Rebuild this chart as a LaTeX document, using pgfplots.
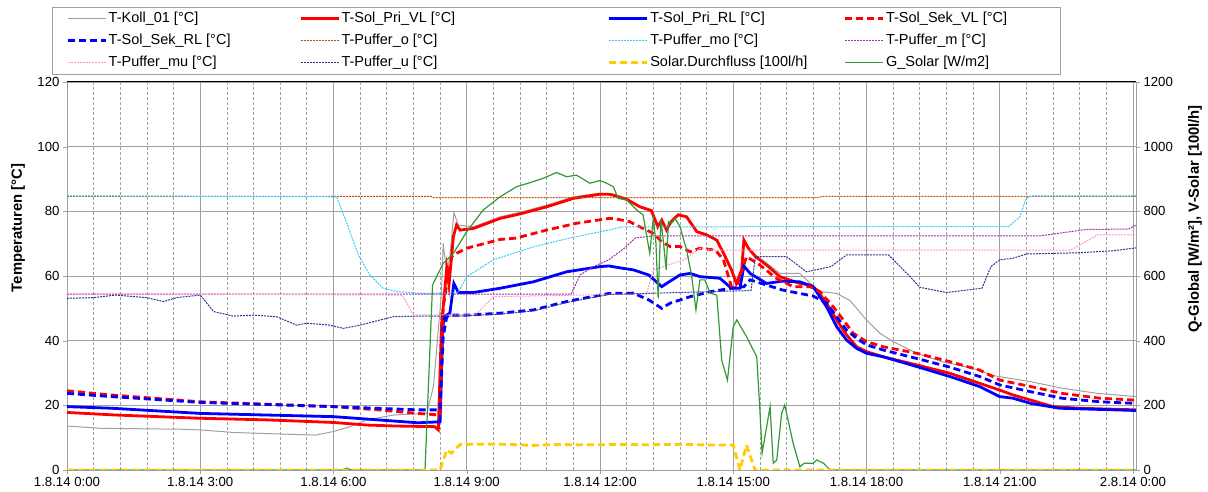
\documentclass[border=0pt]{standalone}
\usepackage{pgfplots}
\pgfplotsset{compat=1.18}
\usepackage{fontspec}
\setmainfont{Liberation Sans}
\definecolor{koll}{RGB}{160,160,160}
\definecolor{pbrown}{RGB}{192,80,0}
\definecolor{pcyan}{RGB}{51,204,255}
\definecolor{ppurple}{RGB}{160,50,160}
\definecolor{ppink}{RGB}{255,153,204}
\definecolor{pnavy}{RGB}{51,51,153}
\definecolor{solyellow}{RGB}{255,204,0}
\definecolor{gsolar}{RGB}{51,153,51}
\definecolor{gridgray}{RGB}{160,160,160}
\begin{document}
\begin{tikzpicture}
\path[use as bounding box] (0,0) rectangle (1208pt,492pt);
\pgfplotsset{
  thinDot/.style={line width=1pt, dash pattern=on 2pt off 1pt},
  thickSolid/.style={line width=2.8pt},
  thickDash/.style={line width=2.8pt, dash pattern=on 7pt off 4pt},
  commonaxis/.style={
    at={(67pt,22pt)}, anchor=south west,
    scale only axis, width=1069pt, height=388pt,
    xmin=0, xmax=24.068,
    /pgf/number format/assume math mode=true,
    /pgf/number format/1000 sep={},
    tick label style={font=\fontsize{13.2}{15}\selectfont, black},
    tick align=outside, major tick length=4pt, minor tick length=0pt,
    axis line style={gridgray},
    tick style={gridgray},
  }
}
\begin{axis}[commonaxis,
  ymin=0, ymax=120,
  xtick={0,3,...,24},
  xticklabels={1.8.14 0:00,1.8.14 3:00,1.8.14 6:00,1.8.14 9:00,1.8.14 12:00,1.8.14 15:00,1.8.14 18:00,1.8.14 21:00,2.8.14 0:00},
  minor x tick num=4,
  ytick={0,20,...,120},
  xtick pos=bottom, ytick pos=left,
  xmajorgrids, xminorgrids, ymajorgrids,
  major grid style={gridgray, line width=0.9pt},
  minor grid style={gridgray, line width=0.7pt, dash pattern=on 3pt off 2pt},
  legend columns=4,
  legend cell align=left,
  legend image code/.code={\draw[#1, line cap=butt] (0pt,0pt) -- (38pt,0pt);},
  legend style={at={(axis description cs:-0.01403,1.1933)}, anchor=north west,
    draw=gridgray, line width=0.8pt, inner xsep=14pt, inner ysep=4.5pt,
    row sep=8pt, column sep=0pt,
    font=\fontsize{14.5}{17}\selectfont,
    nodes={inner xsep=1.5pt, inner ysep=0pt, text height=11pt, text depth=3pt}},
]
\draw[black, line width=1pt] (rel axis cs:0,1) -- (rel axis cs:1,1);
% T-Koll_01
\addplot[koll, line width=1pt] coordinates {
(0,13.6)(0.75,12.9)(2.6,12.6)(3,12.4)(3.75,11.6)(4.87,11.1)(5.6,10.8)(6,11.9)(6.37,13.4)(6.75,15.5)(7.35,17)(8.1,17.5)(8.25,25.8)(8.43,54.6)(8.47,70.1)(8.55,60.8)(8.62,66)(8.71,79.6)(8.81,75.8)(9.15,75.2)(9.75,78.3)(10.2,79.7)(10.8,81.9)(11.4,84.5)(12,85.6)(12.3,85.3)(12.6,84)(12.9,81.6)(13.16,80.5)(13.3,76)(13.5,75)(13.76,79.2)(13.95,78.5)(14.18,74)(14.4,73)(14.63,71.3)(14.8,67)(14.96,62.5)(15.07,58.5)(15.19,62)(15.24,70.5)(15.34,68.8)(15.5,66.5)(15.75,64)(16.05,60.8)(16.5,60.8)(16.73,57.8)(16.95,55.2)(17.33,54.6)(17.63,52.4)(18,46.4)(18.3,42.3)(18.6,39.7)(19.13,36.1)(19.7,33.5)(20.4,31.4)(20.9,29.1)(21.7,27.3)(22.4,25.3)(23.2,23.7)(24.07,22.7)};
\addlegendentry{\makebox[189pt][l]{T-Koll\_01 [°C]}}
% T-Sol_Pri_VL
\addplot[red, thickSolid] coordinates {
(0,17.8)(1.1,17)(3,16)(4.5,15.5)(6,14.7)(6.75,13.9)(7.4,13.6)(8.28,13.4)(8.36,12.4)(8.43,44.3)(8.55,62.4)(8.6,57.2)(8.7,72.2)(8.77,75.8)(8.85,74.2)(9.15,74.7)(9.75,77.8)(10.2,79.2)(10.8,81.4)(11.4,84)(12,85.3)(12.2,85.3)(12.3,85)(12.6,83.7)(12.9,81.4)(13.16,80.2)(13.3,75.2)(13.39,77.3)(13.5,74.2)(13.6,76.8)(13.76,78.9)(13.95,78.3)(14.18,73.7)(14.4,72.7)(14.63,71.1)(14.8,66.5)(14.96,61.9)(15.07,57.7)(15.19,61.9)(15.24,71.1)(15.34,68.6)(15.5,66)(15.75,63.4)(16.05,59.8)(16.5,57.7)(16.73,57.2)(16.88,55.7)(17.1,51.6)(17.33,46.4)(17.55,41.8)(17.78,38.1)(18,36.6)(18.38,35)(19.13,32.5)(19.88,29.9)(20.55,26.8)(21,24.7)(21.3,23.2)(21.7,21.6)(22.2,19.6)(22.8,19.1)(24.07,18.6)};
\addlegendentry{\makebox[265pt][l]{T-Sol\_Pri\_VL [°C]}}
% T-Sol_Pri_RL
\addplot[blue, thickSolid] coordinates {
(0,19.6)(1,19.1)(3,17.5)(6,16.5)(7,15.5)(7.9,14.6)(8.4,14.9)(8.46,44.3)(8.5,47.6)(8.62,48.5)(8.71,57.7)(8.81,54.9)(9.15,54.9)(9.75,56.2)(10.5,58.2)(11.25,61.3)(12,62.9)(12.2,63.1)(12.5,62.4)(12.75,61.9)(13.1,60.3)(13.39,56.7)(13.5,57.7)(13.8,60.3)(14.03,60.8)(14.25,59.8)(14.7,59.3)(14.96,56.2)(15.15,56.2)(15.24,63.1)(15.38,60.8)(15.75,57.7)(16.1,58.4)(16.5,58.2)(16.8,56.7)(17.1,50.5)(17.33,44.3)(17.55,40.2)(17.78,37.6)(18,36.1)(18.38,35)(19.13,32)(19.88,28.9)(20.55,25.8)(21,22.7)(21.3,22.2)(21.7,20.6)(22.35,19.1)(24.07,18.4)};
\addlegendentry{\makebox[192pt][l]{T-Sol\_Pri\_RL [°C]}}
% T-Sol_Sek_VL
\addplot[red, thickDash] coordinates {
(0,24.5)(1,23.2)(3,21.1)(6,19.6)(7,18.6)(7.9,17.5)(8.4,17)(8.47,50.5)(8.58,59.8)(8.66,66)(8.77,67)(9,68.6)(9.75,71.3)(10.1,71.7)(10.8,74.2)(11.47,76.3)(12.2,77.8)(12.3,77.8)(12.67,76.8)(12.97,74.7)(13.2,73.2)(13.39,70.6)(13.58,69.1)(13.8,69.1)(14.03,67.5)(14.25,68.6)(14.6,68)(14.78,65)(14.96,56.7)(15.1,57.7)(15.3,66)(15.6,63.4)(15.97,59.3)(16.35,56.7)(16.73,56.7)(16.95,55.2)(17.25,50.5)(17.48,46.4)(17.7,42.3)(18,39.7)(18.38,38.1)(19.13,36.1)(19.88,33.5)(20.55,30.9)(21,27.8)(21.7,25.8)(22.4,23.7)(23.25,22.2)(24.07,21.6)};
\addlegendentry{\makebox[159pt][l]{T-Sol\_Sek\_VL [°C]}}
% T-Sol_Sek_RL
\addplot[blue, thickDash] coordinates {
(0,23.7)(1,22.7)(3,20.9)(6,19.6)(7.9,18.6)(8.4,18.6)(8.47,41.2)(8.55,47.4)(8.66,47.9)(9,47.9)(9.75,48.5)(10.5,49.5)(11.25,52.1)(12.2,54.6)(12.75,54.7)(13.1,52.6)(13.39,50)(13.58,51.6)(14.03,53.6)(14.5,55.2)(14.96,56.2)(15.24,56.7)(15.38,58.8)(15.75,57.2)(16.1,55.7)(16.5,54.6)(16.8,53.8)(17.1,51.6)(17.33,47.4)(17.55,43.3)(17.78,40.7)(18,38.7)(18.38,37.1)(19.13,34.5)(19.88,31.8)(20.55,28.9)(21,26.3)(21.7,24.2)(22.4,22.2)(23.25,21.1)(24.07,20.6)};
\addlegendentry{T-Sol\_Sek\_RL [°C]}
% T-Puffer_o
\addplot[pbrown, thinDot] coordinates {
(0,84.6)(8.2,84.6)(8.25,84.2)(16.9,84.2)(17,84.6)(24.07,84.6)};
\addlegendentry{T-Puffer\_o [°C]}
% T-Puffer_mo
\addplot[pcyan, thinDot] coordinates {
(0,84.8)(6.07,84.5)(6.3,76.3)(6.56,66.5)(6.82,60.3)(7.12,56.2)(7.42,55.2)(7.95,54.6)(8.8,54.8)(9,59.8)(9.6,65)(10.5,69)(11.4,72)(12.2,74.2)(12.5,75.2)(21.2,75.3)(21.45,78.3)(21.6,84.1)(21.75,84.8)(24.07,84.8)};
\addlegendentry{T-Puffer\_mo [°C]}
% T-Puffer_m
\addplot[ppurple, thinDot] coordinates {
(0,54.4)(11.35,54.4)(11.55,60.3)(11.85,62.9)(12.2,65)(12.55,68.6)(12.8,71.8)(13.2,72.4)(21.9,72.4)(22.95,74.4)(23.9,74.5)(24.07,75.8)};
\addlegendentry{T-Puffer\_m [°C]}
% T-Puffer_mu
\addplot[ppink, thinDot] coordinates {
(0,54.6)(7.55,54.1)(7.8,48)(9.2,48)(9.6,53.6)(13.05,54.5)(13.2,61.9)(13.9,65)(14.25,68.6)(14.5,68)(22.6,68)(23.2,72.7)(24.07,72.7)};
\addlegendentry{T-Puffer\_mu [°C]}
% T-Puffer_u
\addplot[pnavy, thinDot] coordinates {
(0,53.1)(0.58,53.3)(1.1,54.1)(1.8,53.3)(2.17,52.1)(2.47,53.3)(3,54.1)(3.3,49)(3.74,47.6)(4.2,47.9)(4.72,47.4)(5.17,44.8)(5.4,45.4)(5.92,44.8)(6.22,43.8)(6.6,44.8)(7.05,46.4)(7.35,47.4)(7.95,47.6)(8.8,47.6)(9.75,48.2)(10.5,49.2)(11.25,51.8)(12.2,54.3)(15.4,55.5)(15.5,66)(16.2,66)(16.65,61.3)(17.2,62.9)(17.55,66.5)(18.5,66.5)(19.05,58.8)(19.2,56.5)(19.8,54.9)(20.6,56.2)(20.8,62.9)(21,65)(21.3,65.5)(21.6,66.8)(22.8,67.2)(23.55,67.8)(24.07,68.7)};
\addlegendentry{T-Puffer\_u [°C]}
\addlegendimage{solyellow, thickDash}
\addlegendentry{Solar.Durchfluss [100l/h]}
\addlegendimage{gsolar, line width=1.2pt}
\addlegendentry{G\_Solar [W/m2]}
\end{axis}
\begin{axis}[commonaxis,
  ymin=0, ymax=1200,
  axis y line*=right, axis x line=none,
  ytick={0,200,...,1200},
]
% G_Solar
\addplot[gsolar, line width=1.2pt] coordinates {
(0,0)(6.2,0)(6.3,6)(6.4,0)(8.06,0)(8.23,572)(8.47,639)(8.7,670)(9,737)(9.37,804)(9.75,845)(10.12,876)(10.5,892)(10.72,902)(11.02,920)(11.25,907)(11.47,912)(11.77,887)(12,895)(12.15,887)(12.3,876)(12.41,840)(12.6,835)(12.83,804)(12.97,789)(13.12,670)(13.2,778)(13.26,701)(13.31,531)(13.37,773)(13.42,717)(13.49,619)(13.54,768)(13.61,763)(13.69,778)(13.8,753)(13.95,680)(14.06,603)(14.16,495)(14.25,588)(14.36,588)(14.48,547)(14.63,541)(14.74,340)(14.87,278)(15,443)(15.08,464)(15.3,412)(15.53,350)(15.6,186)(15.65,52)(15.83,196)(15.9,21)(15.98,31)(16.09,175)(16.16,201)(16.35,82)(16.5,10)(16.6,21)(16.8,21)(16.88,31)(17.03,21)(17.18,0)(24.07,0)};
% Solar.Durchfluss
\addplot[solyellow, thickDash] coordinates {
(0,0)(8.4,0)(8.55,62)(8.66,52)(8.85,79)(9.5,80)(10,79)(10.5,76)(11,79)(11.5,78)(12,78)(12.5,79)(13,78)(13.5,79)(14,79)(14.5,77)(15,77)(15.15,0)(15.3,77)(15.49,0)(24.07,0)};
\end{axis}
\node[rotate=90, font=\bfseries\fontsize{14.8}{17}\selectfont] at (18pt,264pt) {Temperaturen [°C]};
\node[rotate=90, font=\bfseries\fontsize{14.8}{17}\selectfont] at (1195pt,273pt) {Q-Global [W/m²], V-Solar [100l/h]};
\end{tikzpicture}
\end{document}
